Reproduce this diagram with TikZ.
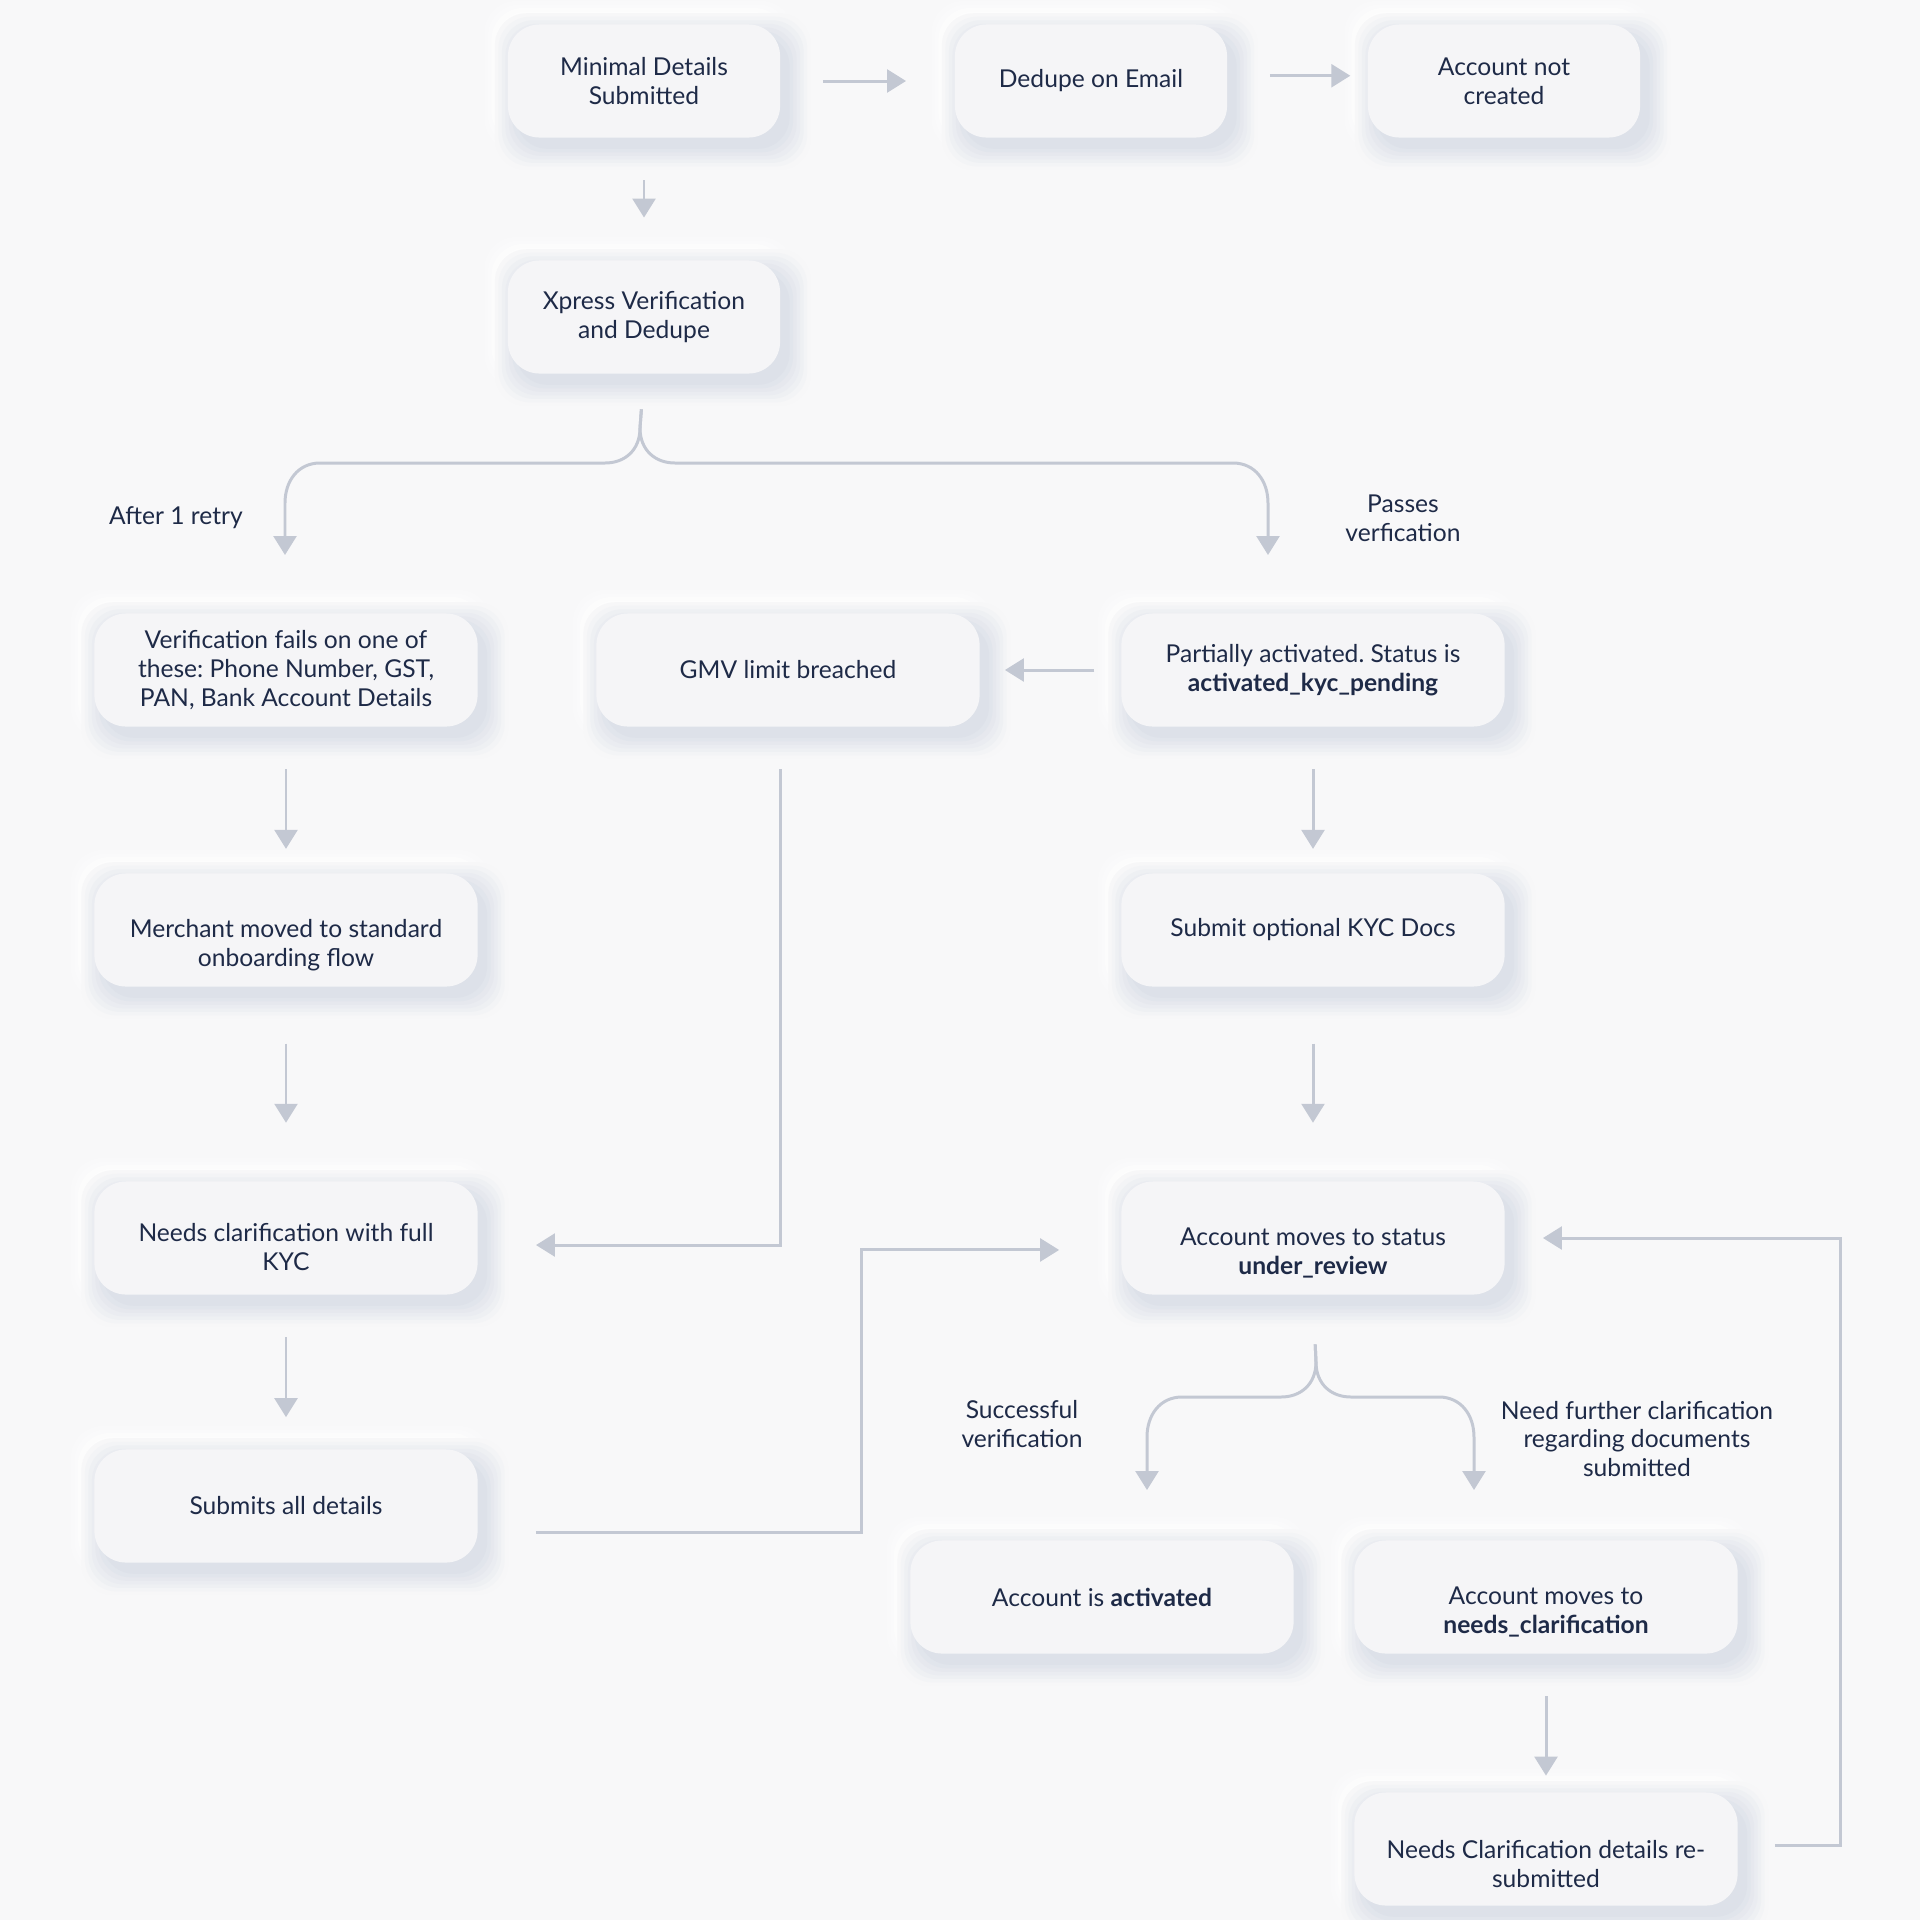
\documentclass[tikz,border=0pt]{standalone}
\usepackage{fontspec}
\setmainfont{Lato}
\frenchspacing
\usetikzlibrary{arrows.meta,backgrounds}
\definecolor{bgc}{HTML}{F8F8F9}
\definecolor{boxc}{HTML}{F5F5F7}
\definecolor{ink}{HTML}{1E2A47}
\definecolor{wire}{HTML}{C3C8D3}
\definecolor{shade}{HTML}{DDE1E9}
\tikzset{
  box/.style={rounded corners=9pt,fill=boxc,text=ink,align=center,
    minimum width=2.72cm,minimum height=1.13cm,font=\fontsize{7}{8.2}\selectfont},
  wide/.style={box,minimum width=3.83cm},
  txt/.style={text=ink,align=center,font=\fontsize{7}{8.2}\selectfont},
  arr/.style={draw=wire,line width=0.85pt,-{Stealth[inset=0pt,length=5.4pt,width=6.5pt]},
    shorten <=12pt,shorten >=12pt},
  lbl/.style={txt}
}
\begin{document}
\begin{tikzpicture}[x=0.01cm,y=-0.01cm]
\useasboundingbox (0,0) rectangle (1920,1920);
% top row
\node[box] (min) at (644,81) {Minimal Details\\Submitted};
\node[box] (ded) at (1091,81) {Dedupe on Email};
\node[box] (acc) at (1504,81) {Account not\\created};
\node[box] (xpr) at (644,317) {Xpress Verification\\and Dedupe};
% middle
\node[wide] (ver) at (286,670) {Verification fails on one of\\these: Phone Number, GST,\\PAN, Bank Account Details};
\node[wide] (gmv) at (788,670) {GMV limit breached};
\node[wide] (par) at (1313,670) {Partially activated. Status is\\\textbf{activated\_kyc\_pending}};
\node[wide,label={[txt,yshift=-4.3pt]center:{Merchant moved to standard\\onboarding flow}}] (mer) at (286,930) {};
\node[wide] (kyc) at (1313,930) {Submit optional KYC Docs};
\node[wide,label={[txt,yshift=-2.6pt]center:{Needs clarification with full\\KYC}}] (ncl) at (286,1238) {};
\node[wide,label={[txt,yshift=-4.3pt]center:{Account moves to status\\\textbf{under\_review}}}] (und) at (1313,1238) {};
\node[wide] (sub) at (286,1506) {Submits all details};
% bottom
\node[wide] (act) at (1102,1597) {Account is \textbf{activated}};
\node[wide,label={[txt,yshift=-4.3pt]center:{Account moves to\\\textbf{needs\_clarification}}}] (nee) at (1546,1597) {};
\node[wide,label={[txt,yshift=-4.3pt]center:{Needs Clarification details re-\\submitted}}] (res) at (1546,1849) {};
% soft shadows, outermost ring first
\begin{pgfonlayer}{background}
\fill[bgc] (0,0) rectangle (1920,1920);
\foreach \n in {min,ded,acc,xpr,ver,gmv,par,mer,kyc,ncl,und,sub,act,nee,res}{
  \foreach \s [evaluate=\s as \q using 100-16*\s] in {6,5,...,0}{
    \fill[white!\q!bgc,rounded corners=9pt]
      ([shift={(-1.5pt-\s pt,1.5pt-\s pt)}]\n.south west) rectangle ([shift={(-1.5pt+\s pt,1.5pt+\s pt)}]\n.north east);}
  \foreach \s [evaluate=\s as \q using 100-16*\s] in {6,5,...,0}{
    \fill[shade!\q!bgc,rounded corners=9pt]
      ([shift={(2.5pt-\s pt,-3pt-\s pt)}]\n.south west) rectangle ([shift={(2.5pt+\s pt,-3pt+\s pt)}]\n.north east);}
}
\end{pgfonlayer}
% labels
\node[lbl] (retry) at (176,518) {After 1 retry};
\node[lbl] (pass) at (1403,518) {Passes\\verfication};
\node[lbl] (succ) at (1022,1424) {Successful\\verification};
\node[lbl] (further) at (1637,1439) {Need further clarification\\regarding documents\\submitted};
% branch points
\coordinate (brL) at (285,555);
\coordinate (brR) at (1268,555);
\coordinate (okL) at (1147,1490);
\coordinate (okR) at (1474,1490);
\coordinate (back) at (861,1400);
\coordinate (loop) at (1840,1500);
% straight arrows
\draw[arr,shorten >=13.7pt] (min) -- (ded);
\draw[arr,shorten >=4.8pt] ([yshift=1.5pt]ded.east) -- ([yshift=1.5pt]acc.west);
\draw[arr] (min) -- (xpr);
\draw[arr,shorten >=6.8pt] (ver) -- (mer);
\draw[arr,shorten <=16pt,shorten >=16.5pt] (mer) -- (ncl);
\draw[arr,shorten >=9pt] (ncl) -- (sub);
\draw[arr,shorten <=7.5pt,shorten >=7pt] (par) -- (gmv);
\draw[arr,shorten >=6.8pt] (par) -- (kyc);
\draw[arr,shorten <=16pt,shorten >=16.5pt] (kyc) -- (und);
\draw[arr,shorten >=4.6pt] (nee) -- (res);
% elbows
\draw[arr,shorten >=16.4pt] ([xshift=-2pt]gmv.south) |- ([yshift=-2pt]ncl.east);
\draw[arr,shorten <=16.4pt,shorten >=17.5pt] ([yshift=-7.4pt]sub.east) -| (back) |- ([yshift=-3.4pt]und.west);
\draw[arr,shorten <=10.4pt,shorten >=10.7pt] ([yshift=1pt]res.east) -| (loop) |- (und.east);
% braces
\draw[arr,shorten <=10pt,shorten >=0pt] (xpr.south) -- (640,428) .. controls +(0,22) and +(20,0) .. (605,463)
  -- (320,463) .. controls +(-22,0) and +(0,-22) .. (285,503) -- (brL);
\draw[arr,shorten <=10pt,shorten >=0pt] (xpr.south) -- (640,428) .. controls +(0,22) and +(-20,0) .. (675,463)
  -- (1233,463) .. controls +(22,0) and +(0,-22) .. (1268,503) -- (brR);
\draw[arr,shorten <=14pt,shorten >=0pt] (und.south) -- (1316,1362) .. controls +(0,22) and +(20,0) .. (1281,1397)
  -- (1182,1397) .. controls +(-22,0) and +(0,-22) .. (1147,1437) -- (okL);
\draw[arr,shorten <=14pt,shorten >=0pt] (und.south) -- (1316,1362) .. controls +(0,22) and +(-20,0) .. (1351,1397)
  -- (1439,1397) .. controls +(22,0) and +(0,-22) .. (1474,1437) -- (okR);
\end{tikzpicture}
\end{document}
